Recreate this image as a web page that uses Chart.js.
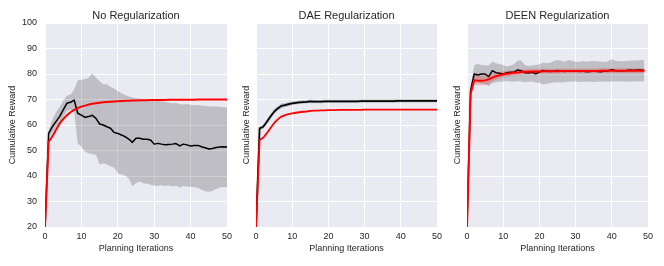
<!DOCTYPE html>
<html><head><meta charset="utf-8">
<script src="https://cdn.jsdelivr.net/npm/chart.js@4/dist/chart.umd.min.js"></script>
<style>
html,body{margin:0;padding:0;background:#fff;}
#wrap{position:relative;width:664px;height:266px;}
canvas{position:absolute;left:0;top:0;}
</style></head><body>
<div id="wrap">
<canvas id="c1" width="664" height="266"></canvas>
<canvas id="c2" width="664" height="266"></canvas>
<canvas id="c3" width="664" height="266"></canvas>
</div>
<script>
// ---------- data ----------
const panelTitles = ["No Regularization", "DAE Regularization", "DEEN Regularization"];
const xTitle = "Planning Iterations";
const yTitle = "Cumulative Reward";
const xTicks = [0, 10, 20, 30, 40, 50];
const yTicks = [20, 30, 40, 50, 60, 70, 80, 90, 100];

const iterations = [0,1,2,3,4,5,6,7,8,9,10,11,12,13,14,15,16,17,18,19,20,21,22,23,24,25,26,27,28,29,30,31,32,33,34,35,36,37,38,39,40,41,42,43,44,45,46,47,48,49,50];

// No Regularization
const noRegBlack = [20,56.7,59.3,61.3,63.3,65.9,68.5,68.9,69.8,64.6,63.9,63.0,63.3,63.8,62.6,60.4,60.0,59.3,58.7,57.1,56.7,56.1,55.4,54.5,53.2,54.8,54.8,54.4,54.4,54.1,52.5,52.8,52.5,52.3,52.4,52.5,52.7,51.8,52.5,52.2,51.8,52.0,52.0,51.5,51.1,50.6,50.8,51.2,51.4,51.5,51.4];
const noRegUpper = [20,58,62,65,67,69.5,71.5,72,74,77.5,77.7,78,78.5,80.3,78.5,77.3,76,76,75,74.3,73.3,72.5,71.8,71.2,70.8,70.5,70.3,70.2,70,69.8,69.5,69.5,69.3,69,68.8,68.5,68.6,68.2,68,68.2,67.9,67.7,67.8,67.6,67.5,67.4,67.3,67.3,67.2,67,66.9];
const noRegLower = [20,55,57,59,61,63,65.5,66,65.5,52.8,51.5,49.5,48.9,48.6,48.2,44.5,45,44.5,43.8,43.2,41,40.6,40.2,39,36,37.3,37.8,37.2,37,36.6,36.2,36.1,36.4,36.1,36.4,35.9,36.2,35.5,36.1,35.9,35.8,35.6,35.4,34.6,34,33.8,34.1,34.9,35.5,35.7,35.6];
const noRegRed = [20,53.5,55.5,58,60.5,62.3,63.8,65,65.9,66.6,67.2,67.6,68,68.3,68.5,68.7,68.9,69.0,69.1,69.2,69.3,69.4,69.5,69.55,69.6,69.65,69.7,69.7,69.75,69.8,69.8,69.8,69.85,69.85,69.9,69.9,69.9,69.9,69.95,69.95,69.95,69.95,70,70,70,70,70,70,70,70,70];

// DAE Regularization
const daeBlack = [20,58.7,59.3,61.3,63.3,65.2,66.5,67.5,67.8,68.2,68.5,68.7,68.9,69.0,69.1,69.3,69.2,69.2,69.2,69.3,69.3,69.3,69.3,69.3,69.3,69.3,69.3,69.3,69.3,69.4,69.4,69.4,69.4,69.4,69.4,69.4,69.4,69.4,69.4,69.5,69.5,69.5,69.5,69.5,69.5,69.5,69.5,69.5,69.5,69.5,69.5];
const daeSpread = [0,0.7,0.8,0.9,1.0,1.0,0.9,0.9,0.8,0.8,0.8,0.7,0.7,0.7,0.7,0.7,0.7,0.7,0.7,0.7,0.7,0.7,0.7,0.7,0.7,0.7,0.7,0.7,0.7,0.7,0.7,0.7,0.7,0.7,0.7,0.7,0.7,0.7,0.7,0.7,0.7,0.7,0.7,0.7,0.7,0.7,0.7,0.7,0.7,0.7,0.7];
const daeRed = [20,54.1,55.0,56.8,58.8,60.7,62.2,63.3,63.9,64.3,64.6,64.8,65.0,65.2,65.3,65.5,65.6,65.6,65.7,65.7,65.8,65.8,65.8,65.9,65.9,65.9,65.9,65.9,65.9,65.9,66,66,66,66,66,66,66,66,66,66,66,66,66,66,66,66,66,66,66,66,66];

// DEEN Regularization (iterations 0..49)
const deenBlack = [20,73.7,80.0,79.6,80.0,80.0,79.0,81.3,80.5,80.3,80.0,80.5,80.7,80.7,81.6,81.3,80.5,80.4,80.7,80.1,80.8,81.4,81.2,81.0,81.2,81.4,81.2,81.0,81.2,81.3,81.2,81.0,81.2,80.9,81.0,81.2,81.0,80.9,81.2,81.3,81.7,81.4,81.3,81.3,81.4,81.6,81.4,81.6,81.6,81.4];
const deenUpper = [20,75,83.5,83.9,83.5,83.4,83.3,84.8,84.2,83.9,83.5,82.9,83.3,83.8,85.3,85.3,83.5,83.1,83.3,83.5,83.8,84.4,84.2,84.4,85.1,85.5,85.2,84.8,85.5,85.2,84.8,84.7,85.1,84.8,85.0,85.1,85.0,84.8,84.7,85.0,85.8,85.2,85.1,85.0,85.1,85.2,85.3,85.3,85.5,85.3];
const deenLower = [20,72,76.8,76.5,76.3,76,75.2,76.5,76.8,77,77.1,77.3,77.1,77,77.3,77.1,76.8,77,77.1,76.7,76.5,75.9,76.2,76.5,76.7,76.8,76.7,76.9,77,77.1,77.1,76.9,77,77.1,77,76.9,77,77.1,77.1,77,77.1,77.2,77.1,77.1,77,77.1,77.2,77.1,77.1,77.2];
const deenRed = [20,72.4,77.6,77.4,77.4,77.5,77.9,78.6,79.1,79.5,79.9,80.1,80.3,80.5,80.6,80.8,80.9,80.9,81.0,81.0,81.0,81.1,81.1,81.1,81.1,81.1,81.2,81.2,81.2,81.2,81.2,81.2,81.2,81.2,81.2,81.2,81.2,81.3,81.3,81.3,81.3,81.3,81.3,81.3,81.3,81.3,81.3,81.3,81.3,81.3];
const deenRedSpread = [0,1.5,1.8,1.8,1.8,1.8,1.7,1.5,1.4,1.3,1.2,1.1,1.1,1.0,1.0,1.0,1.0,1.0,1.0,1.0,1.0,1.0,1.0,1.0,1.0,1.0,1.0,1.0,1.0,1.0,1.0,1.0,1.0,1.0,1.0,1.0,1.0,1.0,1.0,1.0,1.0,1.0,1.0,1.0,1.0,1.0,1.0,1.0,1.0,1.0];

// ---------- drawing ----------
const FONT = '"Liberation Sans", Arial, Helvetica, sans-serif';
const TXT = '#262626';

function pts(ys) { return ys.map((y, i) => ({x: iterations[i], y})); }
function addArr(a, b, s) { return a.map((v, i) => v + s * b[i]); }

const panelPlugin = {
  id: 'panel',
  beforeDraw(chart, args, opts) {
    const {ctx, chartArea: a} = chart;
    ctx.save();
    ctx.fillStyle = '#EAEAF2';
    ctx.fillRect(a.left, a.top, a.right - a.left, a.bottom - a.top);
    ctx.restore();
  },
  afterDraw(chart, args, opts) {
    const {ctx, chartArea: a} = chart;
    ctx.save();
    ctx.font = '11px ' + FONT;
    ctx.fillStyle = TXT;
    ctx.textAlign = 'center';
    ctx.textBaseline = 'alphabetic';
    ctx.fillText(opts.text, (a.left + a.right) / 2, 18.5);
    ctx.restore();
  }
};

function bandSets(lower, upper, color, order) {
  return [
    {data: pts(lower), borderWidth: 0, pointRadius: 0, fill: false, order: order},
    {data: pts(upper), borderWidth: 0, pointRadius: 0, fill: '-1', backgroundColor: color, order: order}
  ];
}
function lineSet(ys, color, w, order) {
  return {data: pts(ys), borderColor: color, borderWidth: w, pointRadius: 0, fill: false, order: order, borderJoinStyle: 'round'};
}

function makeChart(id, title, datasets, pad, yWidth, showYTicks, yTitlePad) {
  new Chart(document.getElementById(id), {
    type: 'line',
    data: {datasets},
    options: {
      responsive: false, animation: false, devicePixelRatio: 1, events: [],
      layout: {padding: pad},
      elements: {line: {tension: 0}},
      plugins: {legend: {display: false}, tooltip: {enabled: false}, panel: {text: title}},
      scales: {
        x: {
          type: 'linear', min: xTicks[0], max: xTicks[xTicks.length - 1],
          afterBuildTicks(s) { s.ticks = xTicks.map(v => ({value: v})); },
          ticks: {color: TXT, font: {family: FONT, size: 9}, padding: 4, maxRotation: 0},
          grid: {color: '#ffffff', lineWidth: 1, drawTicks: false},
          border: {display: false},
          title: {display: true, text: xTitle, color: TXT, font: {family: FONT, size: 9}, padding: {top: 0, bottom: 12}},
          afterFit(s) { s.height = 39; }
        },
        y: {
          type: 'linear', min: yTicks[0], max: yTicks[yTicks.length - 1],
          afterBuildTicks(s) { s.ticks = yTicks.map(v => ({value: v})); },
          ticks: {display: showYTicks, color: TXT, font: {family: FONT, size: 9}, padding: 8},
          grid: {color: '#ffffff', lineWidth: 1, drawTicks: false},
          border: {display: false},
          title: {display: true, text: yTitle, color: TXT, font: {family: FONT, size: 9}, padding: {top: yTitlePad, bottom: 0}},
          afterFit(s) { s.width = yWidth; }
        }
      }
    },
    plugins: [panelPlugin]
  });
}

const GRAY = 'rgba(0,0,0,0.19)';
const PINK = 'rgba(255,0,0,0.2)';
const RED = '#ff0000';

makeChart('c1', panelTitles[0], [
  ...bandSets(noRegLower, noRegUpper, GRAY, 4),
  lineSet(noRegBlack, '#000000', 1.5, 3),
  lineSet(noRegRed, RED, 2, 1)
], {left: 0, right: 437, top: 23, bottom: 0}, 45, true, 7.6);

makeChart('c2', panelTitles[1], [
  ...bandSets(addArr(daeBlack, daeSpread, -1), addArr(daeBlack, daeSpread, 1), GRAY, 4),
  lineSet(daeBlack, '#000000', 1.8, 3),
  lineSet(daeRed, RED, 1.8, 1)
], {left: 240, right: 227, top: 23, bottom: 0}, 16, false, 1.6);

makeChart('c3', panelTitles[2], [
  ...bandSets(deenLower, deenUpper, GRAY, 4),
  lineSet(deenBlack, '#000000', 1.5, 3),
  ...bandSets(addArr(deenRed, deenRedSpread, -1), addArr(deenRed, deenRedSpread, 1), PINK, 2),
  lineSet(deenRed, RED, 2, 1)
], {left: 451, right: 16, top: 23, bottom: 0}, 16, false, 0.9);
</script>
</body></html>
